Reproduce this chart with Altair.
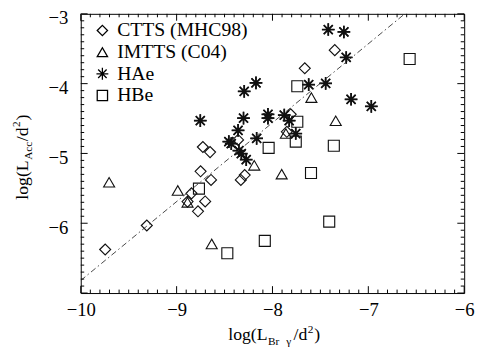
import altair as alt
import pandas as pd

FONT = "Liberation Serif"

# ---------------- data ----------------
series_names = ["CTTS (MHC98)", "IMTTS (C04)", "HAe", "HBe"]

ctts_x = [-9.745, -9.311, -8.886, -8.845, -8.702, -8.777, -8.750, -8.641, -8.726,
          -8.651, -8.359, -8.330, -8.290, -7.810, -7.850, -7.663, -7.350]
ctts_y = [-6.376, -6.032, -5.690, -5.572, -5.688, -5.829, -5.256, -5.380, -4.908,
          -4.981, -4.807, -5.380, -5.310, -4.440, -4.690, -3.780, -3.520]

imtts_x = [-9.704, -8.988, -8.886, -8.634, -8.190, -7.904, -7.860, -7.594, -7.340]
imtts_y = [-5.413, -5.531, -5.700, -6.297, -5.170, -5.297, -4.715, -4.200, -4.532]

hae_x = [-8.753, -8.455, -8.430, -8.359, -8.302, -8.295, -8.172, -8.350, -8.325,
         -8.274, -8.165, -8.047, -8.047, -7.877, -7.826, -7.757, -7.622, -7.445,
         -7.418, -7.255, -7.231, -7.180, -6.969]
hae_y = [-4.530, -4.830, -4.860, -4.670, -4.495, -4.110, -3.990, -4.960, -5.004,
         -5.090, -4.784, -4.440, -4.495, -4.450, -4.530, -4.715, -4.014, -3.996,
         -3.225, -3.260, -3.625, -4.224, -4.326]

hbe_x = [-8.767, -8.471, -8.080, -8.040, -7.741, -7.741, -7.757, -7.598, -7.408,
         -7.360, -6.569]
hbe_y = [-5.504, -6.430, -6.252, -4.920, -4.037, -4.546, -4.830, -5.280, -5.976,
         -4.890, -3.647]

# dash-dot relation line (end points)
fit_x = [-10.0, -6.62]
fit_y = [-6.82, -3.0]

x_major = [-10, -9, -8, -7, -6]
y_major = [-7, -6, -5, -4, -3]
y_labels = [-6, -5, -4, -3]
x_minor = [round(-10 + 0.1 * i, 1) for i in range(41) if i % 10]
y_minor = [round(-7 + 0.1 * i, 1) for i in range(41) if i % 10]

# title pieces (text, offset along text, font size, shift across text)
x_title_text = ["log(L", "Br", "γ", "/d", "2", ")"]
x_title_off = [0, 40.5, 59, 66.5, 81, 87.5]
x_title_size = [18, 11.5, 11.5, 18, 11.5, 18]
x_title_shift = [0, 4.5, 4.5, 0, -7.5, 0]

y_title_text = ["log(L", "Acc", "/d", "2", ")"]
y_title_off = [0, 40.5, 59.5, 74, 80.5]
y_title_size = [18, 11.5, 18, 11.5, 18]
y_title_shift = [0, 4.5, 0, -7.5, 0]

# ---------------- build ----------------
TOP = 3
W, H = 390, 284
xscale = alt.Scale(domain=[-10, -6], nice=False, zero=False)
yscale = alt.Scale(domain=[-7, -3], nice=False, zero=False)
xaxis = alt.Axis(values=x_major, ticks=False, domain=False, grid=False,
                 title=None, labelPadding=8, labelFontSize=19, labelFlush=False,
                 labelOverlap=False, labelFont=FONT, labelColor="black", format="d")
yaxis = alt.Axis(values=y_labels, ticks=False, domain=False, grid=False,
                 title=None, labelPadding=13, labelFontSize=19, labelFlush=False,
                 labelOverlap=False, labelFont=FONT, labelColor="black", format="d",
                 labelOffset=4)


def X(field="x"):
    return alt.X(f"{field}:Q", scale=xscale, axis=xaxis)


def Y(field="y"):
    return alt.Y(f"{field}:Q", scale=yscale, axis=yaxis)


rows = []
for name, xs, ys in zip(series_names, [ctts_x, imtts_x, hae_x, hbe_x],
                        [ctts_y, imtts_y, hae_y, hbe_y]):
    for a, b in zip(xs, ys):
        rows.append({"series": name, "x": a, "y": b})
df = pd.DataFrame(rows)

star_path = "M-1.15,0L1.15,0M0,-1.15L0,1.15M-0.82,-0.82L0.82,0.82M-0.82,0.82L0.82,-0.82"
shapes = ["diamond", "triangle-up", star_path, "square"]

points = alt.Chart(df).mark_point(
    filled=False, color="#111111", opacity=1, size=125, strokeWidth=1.15
).encode(
    x=X(), y=Y(),
    shape=alt.Shape("series:N", scale=alt.Scale(domain=series_names, range=shapes),
                    legend=alt.Legend(orient="none", legendX=12, legendY=10 - TOP,
                                      title=None, labelFont=FONT, labelFontSize=20,
                                      labelColor="black", symbolStrokeColor="black",
                                      symbolFillColor="transparent", symbolSize=110,
                                      symbolStrokeWidth=1.3, rowPadding=2,
                                      labelOffset=5, padding=0)),
)

# bolder strokes for the HAe asterisks
hae_df = pd.DataFrame({"x": hae_x, "y": hae_y})
hae_bold = alt.Chart(hae_df).mark_point(
    filled=False, color="#111111", opacity=1, size=125, strokeWidth=1.8, shape=star_path
).encode(x=X(), y=Y())

line = alt.Chart(pd.DataFrame({"x": fit_x, "y": fit_y})).mark_line(
    color="#333333", strokeWidth=0.9, strokeDash=[6, 3, 1.5, 3], clip=True
).encode(x=X(), y=Y())


def xticks(vals, length):
    d = pd.DataFrame({"x": vals})
    b = alt.Chart(d).mark_rule(color="black", strokeWidth=1).encode(
        x=X(), y=alt.value(H), y2=alt.value(H - length))
    t = alt.Chart(d).mark_rule(color="black", strokeWidth=1).encode(
        x=X(), y=alt.value(0), y2=alt.value(length))
    return [b, t]


def yticks(vals, length):
    d = pd.DataFrame({"y": vals})
    l = alt.Chart(d).mark_rule(color="black", strokeWidth=1).encode(
        y=Y(), x=alt.value(0), x2=alt.value(length))
    r = alt.Chart(d).mark_rule(color="black", strokeWidth=1).encode(
        y=Y(), x=alt.value(W), x2=alt.value(W - length))
    return [l, r]


tick_layers = xticks(x_minor, 3.5) + xticks(x_major, 7) + yticks(y_minor, 3.5) + yticks(y_major, 7)

title_layers = []
for txt, off, sz, sh in zip(x_title_text, x_title_off, x_title_size, x_title_shift):
    title_layers.append(
        alt.Chart(pd.DataFrame({"t": [txt]})).mark_text(
            align="left", baseline="alphabetic", font=FONT, fontSize=sz, color="black"
        ).encode(x=alt.value(150 + off), y=alt.value(335 - TOP + sh), text="t:N"))
for txt, off, sz, sh in zip(y_title_text, y_title_off, y_title_size, y_title_shift):
    title_layers.append(
        alt.Chart(pd.DataFrame({"t": [txt]})).mark_text(
            align="left", baseline="alphabetic", font=FONT, fontSize=sz, color="black",
            angle=270
        ).encode(x=alt.value(-54 + sh), y=alt.value(192 - TOP - off), text="t:N"))

chart = alt.layer(points, hae_bold, line, *tick_layers, *title_layers).properties(
    width=W, height=H,
    autosize=alt.AutoSizeParams(type="none"),
    padding={"left": 74, "top": TOP, "right": 11, "bottom": 55},
    background="white",
).configure_view(stroke="black", strokeWidth=1)

chart.save("out.html", embed_options={"renderer": "svg", "actions": False})
